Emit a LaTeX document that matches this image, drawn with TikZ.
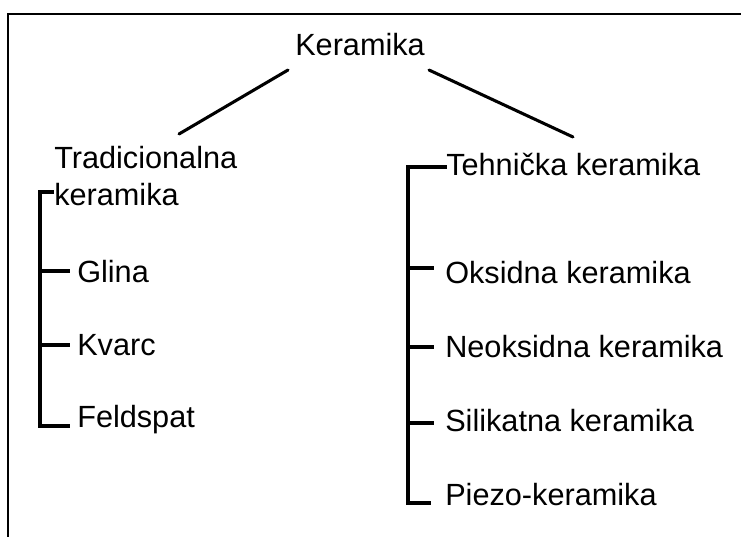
\documentclass[tikz,border=0pt]{standalone}
\usepackage{fontspec}
\setmainfont{Liberation Sans}
\begin{document}
\begin{tikzpicture}[x=0.75pt,y=-0.75pt,
  lbl/.style={inner sep=0pt,anchor=base west,font=\fontsize{23}{27.75}\selectfont},
  conn/.style={line width=2.3pt,line cap=rect},
  frame/.style={line width=1.6pt}]
\useasboundingbox (0,0) rectangle (741,537);
% frame
\coordinate (ftr) at (741,14);
\coordinate (ftl) at (8,14);
\coordinate (fbl) at (8,537);
\draw[frame] (ftr) -- (ftl) -- (fbl);
% texts
\node[lbl] (ker) at (295,55) {Keramika};
\node[lbl,align=left] (trad) at (54,205) {Tradicionalna\\keramika};
\node[lbl] (glina) at (77,282) {Glina};
\node[lbl] (kvarc) at (77,355) {Kvarc};
\node[lbl] (feld) at (77,427) {Feldspat};
\node[lbl] (teh) at (446,175) {Tehnička keramika};
\node[lbl] (oks) at (445,283) {Oksidna keramika};
\node[lbl] (neo) at (445,357) {Neoksidna keramika};
\node[lbl] (sil) at (445,431) {Silikatna keramika};
\node[lbl] (pie) at (445,505) {Piezo-keramika};
% top connectors
\coordinate (kl) at (288,70);
\coordinate (tl) at (179,134);
\coordinate (kr) at (429,70);
\coordinate (tr) at (573,137);
\draw[conn,line cap=round] (kl) -- (tl);
\draw[conn,line cap=round] (kr) -- (tr);
% left bracket
\coordinate (lt) at (40,192);
\coordinate (lte) at (52,192);
\coordinate (lb) at (40,426);
\coordinate (lbe) at (68,426);
\coordinate (lg) at (40,271);
\coordinate (lge) at (68,271);
\coordinate (lk) at (40,345);
\coordinate (lke) at (68,345);
\draw[conn] (lte) -- (lt) -- (lb) -- (lbe);
\draw[conn] (lg) -- (lge);
\draw[conn] (lk) -- (lke);
% right bracket
\coordinate (rt) at (408,167);
\coordinate (rte) at (445,167);
\coordinate (rb) at (408,503);
\coordinate (rbe) at (429,503);
\coordinate (ro) at (408,268);
\coordinate (roe) at (432,268);
\coordinate (rn) at (408,347);
\coordinate (rne) at (432,347);
\coordinate (rs) at (408,423);
\coordinate (rse) at (432,423);
\draw[conn] (rte) -- (rt) -- (rb) -- (rbe);
\draw[conn] (ro) -- (roe);
\draw[conn] (rn) -- (rne);
\draw[conn] (rs) -- (rse);
\end{tikzpicture}
\end{document}
